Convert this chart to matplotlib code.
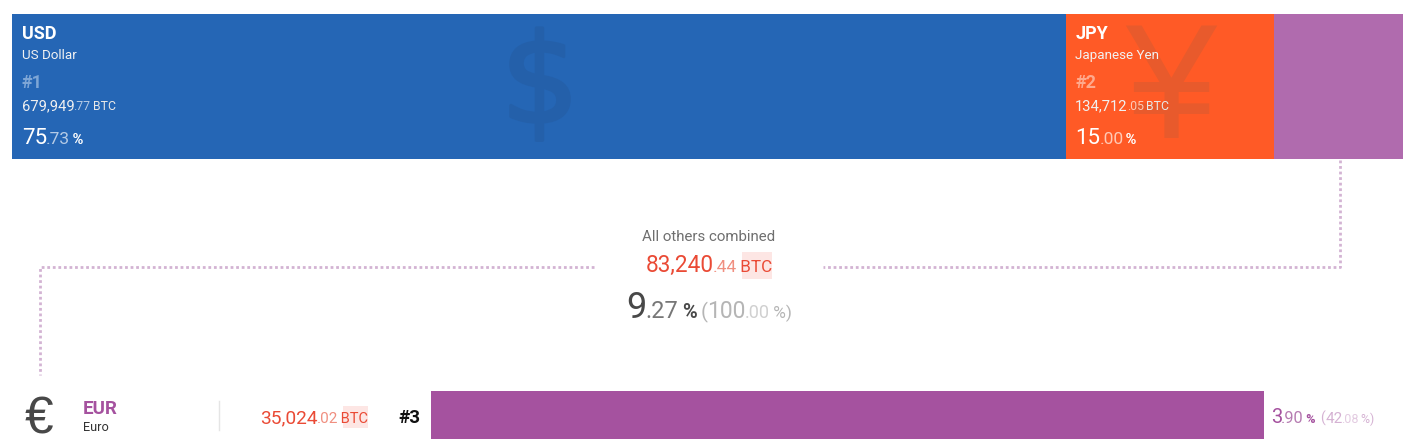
import matplotlib
matplotlib.use("Agg")
import matplotlib.pyplot as plt
import matplotlib.patheffects as pe

plt.rcParams["font.family"] = ["Roboto", "DejaVu Sans"]

# top stacked bar
top_codes = ["USD", "JPY", "Others"]
top_names = ["US Dollar", "Japanese Yen", ""]
top_share = [75.73, 15.00, 9.27]
top_int = ["679,949", "134,712"]
top_dec = [".77", ".05"]
top_pct_int = ["75", "15"]
top_pct_dec = [".73", ".00"]
top_colors = ["#2566b5", "#ff5a26", "#b06bae"]
top_symbols = ["$", "¥"]

# others summary
others_int = "83,240"
others_dec = ".44"
others_pct_int = "9"
others_pct_dec = ".27"

# EUR row
eur_code = "EUR"
eur_name = "Euro"
eur_int = "35,024"
eur_dec = ".02"
eur_pct_int = "3"
eur_pct_dec = ".90"
eur_rel_int = "42"
eur_rel_dec = ".08"
eur_rel_share = 42.08

fig = plt.figure(figsize=(14.14, 4.46), dpi=100)
ax = fig.add_axes([0, 0, 1, 1])
ax.set_xlim(0, 1414)
ax.set_ylim(446, 0)
ax.axis("off")
renderer = fig.canvas.get_renderer()


def runs(x, y, parts, center=False):
    # parts: (text, font size, colour, weight), placed one after the other on one baseline
    items = []
    total = 0
    for s, size, color, weight in parts:
        t = ax.text(x, y, s, fontsize=size, color=color, fontweight=weight,
                    va="baseline", ha="left", zorder=3)
        w = t.get_window_extent(renderer).width - 1
        items.append((t, w))
        total += w
    cur = x - total / 2 if center else x
    out = []
    for t, w in items:
        t.set_x(cur)
        out.append((cur, w))
        cur += w
    return out


# stacked bar
px_per_share = 1391 / sum(top_share)
left = 12.4
lefts = []
for share, color in zip(top_share, top_colors):
    ax.barh(86.5, share * px_per_share, left=left, height=145, color=color, lw=0)
    lefts.append(left)
    left += share * px_per_share

# big faded currency signs
ax.text(540, 122, top_symbols[0], fontsize=89, color="#2460aa", ha="center",
        va="baseline", family="Liberation Sans Narrow", zorder=1,
        path_effects=[pe.withStroke(linewidth=2.5, foreground="#2460aa")])
ax.text(1171, 138, top_symbols[1], fontsize=118, color="#e85a2c", ha="center",
        va="baseline", family="Liberation Sans", zorder=1)

rank_cols = ["#7ea6d6", "#ffa98c"]
dec_cols = ["#b5cbe6", "#ffc9b5"]
for i in range(2):
    x = lefts[i] + 9.5
    ax.text(x, 39, top_codes[i], fontsize=13, color="white", fontweight="bold", zorder=3)
    ax.text(x, 59, top_names[i], fontsize=9.6, color="#f2f2f2", zorder=3)
    ax.text(x, 88, "#%d" % (i + 1), fontsize=13, color=rank_cols[i], fontweight="bold", zorder=3)
    runs(x, 110, [(top_int[i], 10.6, "#f0f0f0", "normal"),
                  (top_dec[i], 8.8, dec_cols[i], "normal"),
                  (" BTC", 8.8, "#e8e8e8", "normal")])
    runs(x, 144, [(top_pct_int[i], 16, "white", "normal"),
                  (top_pct_dec[i], 12.5, dec_cols[i], "normal"),
                  (" %", 10.5, "white", "bold")])

# dotted connectors
dot = dict(color="#d3b3d3", lw=2.0, ls=(0, (1, 1)))
ax.plot([1340, 1340, 823], [160, 267, 267], **dot)
ax.plot([594, 40, 40], [267, 267, 375], **dot)

# others summary
ax.text(708.5, 241, "All others combined", fontsize=10.8, color="#6f6f6f", ha="center")
p = runs(708.5, 272, [(others_int, 16.3, "#ea4a35", "normal"),
                      (others_dec, 12.5, "#f08f80", "normal"),
                      (" BTC", 12.3, "#ea4a35", "normal")], center=True)
ax.barh(265, 30, left=p[2][0] + p[2][1] - 29, height=27, color="#fde6e4", lw=0, zorder=0)
runs(708.5, 318, [(others_pct_int, 26, "#484848", "normal"),
                  (others_pct_dec, 17, "#777777", "normal"),
                  (" %", 14.5, "#484848", "bold"),
                  (" (", 14.5, "#b5b5b5", "normal"),
                  ("100", 16.5, "#b5b5b5", "normal"),
                  (".00", 13, "#d0d0d0", "normal"),
                  (" %)", 12.5, "#b5b5b5", "normal")], center=True)

# EUR row
ax.text(39, 433, "€", fontsize=37, color="#484848", ha="center", va="baseline",
        family="Liberation Sans")
ax.text(83, 414, eur_code, fontsize=13.5, color="#a5529f", fontweight="bold")
ax.text(83, 431, eur_name, fontsize=9.2, color="#333333")
ax.plot([218.5, 218.5], [401, 430], color="#e5e5e5", lw=1)
p = runs(260, 423, [(eur_int, 13.8, "#ea4a35", "normal"),
                    (eur_dec, 11, "#f08f80", "normal"),
                    (" BTC", 10.5, "#ea4a35", "normal")])
ax.barh(417, 25, left=p[2][0] + p[2][1] - 24, height=22, color="#fde6e4", lw=0, zorder=0)
ax.text(398, 423, "#3", fontsize=13.5, color="#111111", fontweight="bold")
ax.barh(415, eur_rel_share * 833 / 42.08, left=431, height=48, color="#a5529f", lw=0)
runs(1271, 423, [(eur_pct_int, 14.5, "#a5529f", "normal"),
                 (eur_pct_dec, 11.8, "#b67cb2", "normal"),
                 (" %", 9.2, "#a5529f", "bold"),
                 ("  (", 10.2, "#d5b2d3", "normal"),
                 (eur_rel_int, 11, "#d5b2d3", "normal"),
                 (eur_rel_dec, 9, "#e3cbe1", "normal"),
                 (" %)", 8.8, "#d5b2d3", "normal")])

fig.savefig("out.png", dpi=100)
